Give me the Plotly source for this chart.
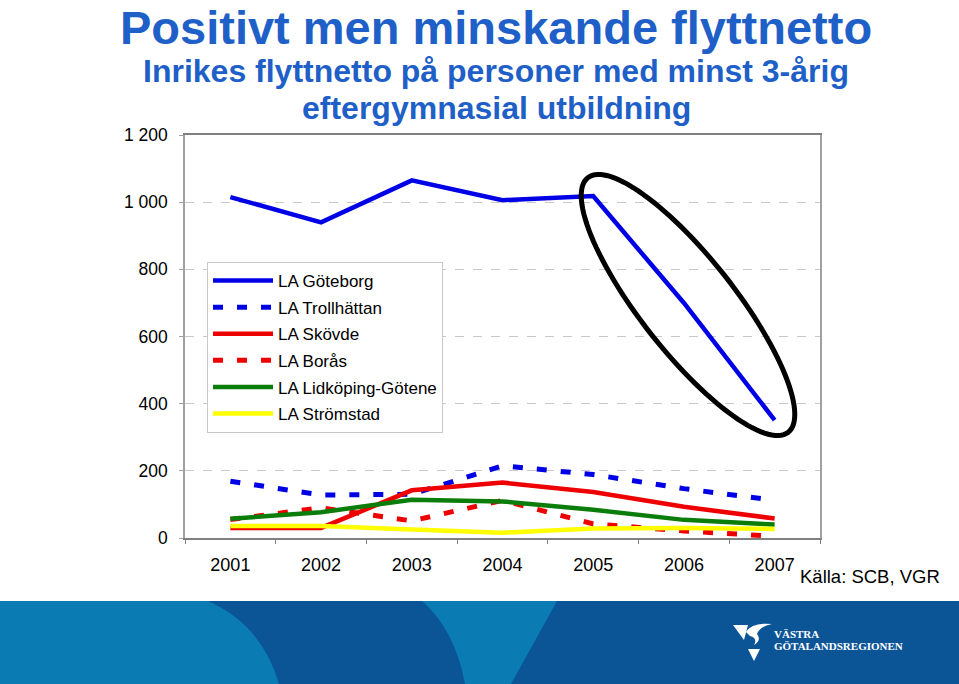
import numpy as np
import plotly.graph_objects as go

years = ["2001", "2002", "2003", "2004", "2005", "2006", "2007"]
goteborg = [1015, 940, 1065, 1006, 1018, 700, 351]
trollhattan = [169, 128, 130, 215, 189, 147, 112]
skovde = [30, 30, 142, 165, 137, 93, 58]
boras = [55, 90, 51, 112, 42, 21, 5]
lidkoping = [57, 77, 114, 109, 84, 54, 40]
stromstad = [36, 36, 25, 16, 28, 30, 27]

series = [
    ("LA Göteborg", goteborg, "#0000E6", "solid", 4.5),
    ("LA Trollhättan", trollhattan, "#0000E6", "10px,14px", 5),
    ("LA Skövde", skovde, "#EE0000", "solid", 4.5),
    ("LA Borås", boras, "#EE0000", "10px,14px", 5),
    ("LA Lidköping-Götene", lidkoping, "#0A7D0A", "solid", 4.5),
    ("LA Strömstad", stromstad, "#FFFF00", "solid", 4.5),
]

W, H = 959, 684
L, R, T, B = 185, 820, 135, 538  # plot area in pixels


def px(X):
    return (X - L) / (R - L)


def py(Y):
    return (B - Y) / (B - T)


fig = go.Figure()
for i, (name, vals, col, dash, w) in enumerate(series):
    fig.add_trace(go.Scatter(
        x=years, y=vals, name=name, mode="lines",
        line=dict(color=col, width=w, dash=dash),
        legendgroup=str(i),
    ))

shapes = []
# bottom band
dark = "#0B5597"
light = "#0A7BB3"
shapes.append(dict(type="rect", xref="paper", yref="paper", x0=px(0), x1=px(W),
                   y0=py(601), y1=py(H), fillcolor=dark, line=dict(width=0), layer="below"))


def pathp(cmds):
    out = []
    for c in cmds:
        if isinstance(c, str):
            out.append(c)
        else:
            out.append(f"{px(c[0]):.5f},{py(c[1]):.5f}")
    return " ".join(out)


shapes.append(dict(type="path", xref="paper", yref="paper", layer="below",
                   path=pathp(["M", (0, 601), "L", (208, 601), "Q", (262, 625), (279, 684),
                               "L", (0, 684), "Z"]),
                   fillcolor=light, line=dict(width=0)))
shapes.append(dict(type="path", xref="paper", yref="paper", layer="below",
                   path=pathp(["M", (422, 601), "L", (557, 601), "L", (511, 684), "L", (465, 684),
                               "Q", (455, 630), (422, 601), "Z"]),
                   fillcolor=light, line=dict(width=0)))

# logo symbol
white = "#FFFFFF"
shapes.append(dict(type="path", xref="paper", yref="paper",
                   path=pathp(["M", (733, 625), "L", (748, 625), "L", (744, 640), "Z"]),
                   fillcolor=white, line=dict(width=0)))
shapes.append(dict(type="path", xref="paper", yref="paper",
                   path=pathp(["M", (746, 632), "Q", (752, 622), (772, 624), "Q", (760, 626), (757, 634),
                               "Q", (762, 640), (754, 645), "Q", (758, 638), (750, 636), "Z"]),
                   fillcolor=white, line=dict(width=0)))
shapes.append(dict(type="path", xref="paper", yref="paper",
                   path=pathp(["M", (748, 649), "L", (760, 649), "L", (754, 661), "Z"]),
                   fillcolor=white, line=dict(width=0)))

# highlight ellipse
cx, cy, a, b, th = 688, 305, 162, 47, np.deg2rad(51.8)
t = np.linspace(0, 2 * np.pi, 121)
ex = cx + a * np.cos(t) * np.cos(th) - b * np.sin(t) * np.sin(th)
ey = cy + a * np.cos(t) * np.sin(th) + b * np.sin(t) * np.cos(th)
epath = "M " + " L ".join(f"{px(X):.5f},{py(Y):.5f}" for X, Y in zip(ex, ey)) + " Z"
shapes.append(dict(type="path", xref="paper", yref="paper", path=epath,
                   line=dict(color="black", width=5), fillcolor="rgba(0,0,0,0)"))

title_col = "#1F5FC8"
F = "Liberation Sans, Arial, sans-serif"


def ann(text, X, Y, size, color="black", bold=False, family=F, xanchor="center", yanchor="middle"):
    if bold:
        text = f"<b>{text}</b>"
    return dict(text=text, x=px(X), y=py(Y), xref="paper", yref="paper", showarrow=False,
                xanchor=xanchor, yanchor=yanchor, borderpad=0,
                font=dict(size=size, color=color, family=family))


annotations = [
    ann("Positivt men minskande flyttnetto", 496, 0, 47, title_col, True, yanchor="top"),
    ann("Inrikes flyttnetto på personer med minst 3-årig", 496, 71, 32, title_col, True),
    ann("eftergymnasial utbildning", 496, 108, 32, title_col, True),
    ann("Källa: SCB, VGR", 870, 576, 18.5),
    ann("VÄSTRA", 773, 634, 11, white, True, "Liberation Serif, serif", "left"),
    ann("GÖTALANDSREGIONEN", 773, 646, 11, white, True, "Liberation Serif, serif", "left"),
]

fig.update_layout(
    width=W, height=H,
    margin=dict(l=L, r=W - R, t=T, b=H - B, pad=0),
    paper_bgcolor="white", plot_bgcolor="white",
    font=dict(family=F, size=18, color="black"),
    showlegend=True,
    legend=dict(x=px(207), y=py(262), xanchor="left", yanchor="top",
                bgcolor="white", bordercolor="#C8C8C8", borderwidth=1,
                font=dict(size=17, family=F), tracegroupgap=1.5, itemwidth=60),
    shapes=shapes,
    annotations=annotations,
)
fig.update_xaxes(type="category", range=[-0.5, 6.5], tickson="boundaries",
                 ticks="outside", ticklen=4, tickcolor="#808080",
                 showline=True, linecolor="#808080", linewidth=1.5, mirror=True,
                 showgrid=False, ticklabelstandoff=10, tickfont=dict(size=18))
fig.update_yaxes(range=[0, 1200], tickvals=[0, 200, 400, 600, 800, 1000, 1200],
                 ticktext=["0", "200", "400", "600", "800", "1 000", "1 200"],
                 showline=True, linecolor="#A0A0A0", linewidth=1.5, mirror=True,
                 showgrid=True, gridcolor="#C8C8C8", griddash="dash", gridwidth=1,
                 zeroline=False, ticks="outside", ticklen=4, tickcolor="#A0A0A0",
                 ticklabelstandoff=8, tickfont=dict(size=17.5))

fig.write_html("out.html", config={"displayModeBar": False},
               post_script="document.body.style.margin='0px';")
